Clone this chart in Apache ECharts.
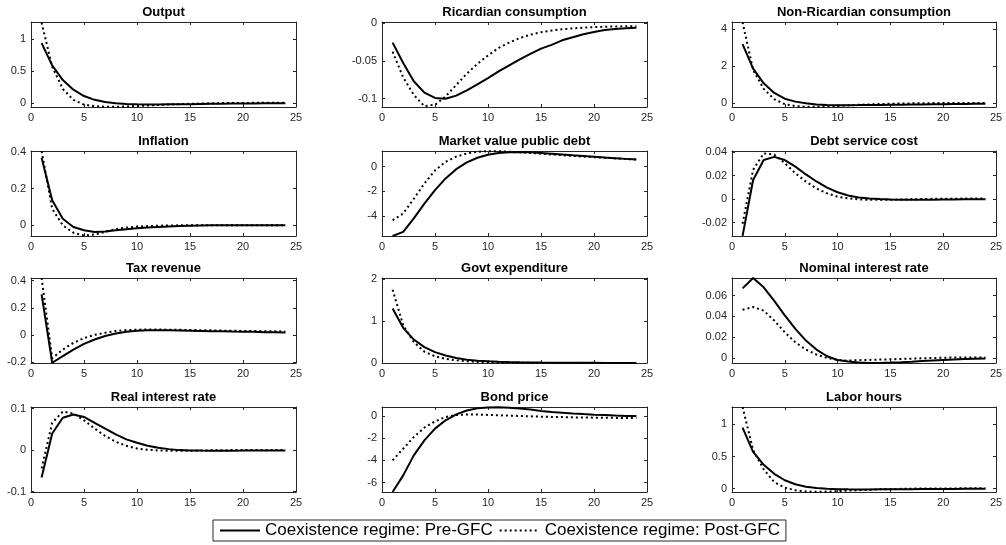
<!DOCTYPE html>
<html><head><meta charset="utf-8">
<script src="https://cdn.jsdelivr.net/npm/echarts@6/dist/echarts.min.js"></script>
<style>html,body{margin:0;padding:0;background:#fff}#c{width:1006px;height:545px}</style>
</head><body><div id="c"></div>
<script>
const periods = [1,2,3,4,5,6,7,8,9,10,11,12,13,14,15,16,17,18,19,20,21,22,23,24];
const xTicks = [0,5,10,15,20,25];
const seriesNames = ['Coexistence regime: Pre-GFC','Coexistence regime: Post-GFC'];
const panelTitles = ['Output','Ricardian consumption','Non-Ricardian consumption','Inflation','Market value public debt','Debt service cost','Tax revenue','Govt expenditure','Nominal interest rate','Real interest rate','Bond price','Labor hours'];

const outputPre  = [0.94,0.59,0.36,0.21,0.11,0.05,0.015,-0.005,-0.014,-0.019,-0.021,-0.021,-0.02,-0.019,-0.017,-0.015,-0.013,-0.011,-0.009,-0.008,-0.006,-0.005,-0.004,-0.003];
const outputPost = [1.26,0.57,0.22,0.05,-0.025,-0.05,-0.058,-0.058,-0.053,-0.046,-0.038,-0.03,-0.023,-0.017,-0.012,-0.008,-0.004,-0.001,0.001,0.002,0.003,0.004,0.004,0.004];
const ricPre  = [-0.026,-0.053,-0.077,-0.092,-0.099,-0.1,-0.096,-0.089,-0.081,-0.073,-0.064,-0.056,-0.048,-0.041,-0.034,-0.029,-0.023,-0.019,-0.015,-0.012,-0.0095,-0.008,-0.007,-0.0065];
const ricPost = [-0.038,-0.072,-0.095,-0.11,-0.108,-0.097,-0.082,-0.067,-0.054,-0.043,-0.033,-0.026,-0.02,-0.0155,-0.0123,-0.01,-0.0085,-0.0072,-0.0063,-0.0056,-0.0051,-0.0047,-0.0045,-0.0044];
const nonRicPre  = [3.2,1.87,1.08,0.56,0.25,0.09,0.0,-0.06,-0.09,-0.1,-0.1,-0.098,-0.094,-0.088,-0.082,-0.075,-0.068,-0.061,-0.054,-0.047,-0.04,-0.033,-0.027,-0.02];
const nonRicPost = [4.38,1.8,0.78,0.22,-0.05,-0.15,-0.19,-0.19,-0.17,-0.14,-0.11,-0.085,-0.06,-0.04,-0.025,-0.012,-0.003,0.004,0.01,0.014,0.017,0.019,0.02,0.02];
const inflPre  = [0.367,0.136,0.036,-0.009,-0.027,-0.036,-0.034,-0.027,-0.021,-0.016,-0.012,-0.009,-0.006,-0.004,-0.002,-0.001,0,0.001,0.001,0.001,0.001,0.001,0.001,0.001];
const inflPost = [0.403,0.09,0.0,-0.04,-0.055,-0.05,-0.035,-0.021,-0.012,-0.007,-0.004,-0.002,-0.001,0,0.001,0.001,0.001,0.001,0.001,0.001,0.001,0.001,0.001,0.001];
const mvPre  = [-5.63,-5.3,-4.2,-3.0,-1.9,-0.95,-0.2,0.35,0.73,0.98,1.12,1.18,1.19,1.17,1.12,1.06,1.0,0.93,0.87,0.81,0.75,0.7,0.64,0.58];
const mvPost = [-4.35,-3.8,-2.6,-1.36,-0.3,0.4,0.82,1.08,1.22,1.27,1.26,1.22,1.17,1.12,1.06,1.0,0.94,0.88,0.83,0.78,0.73,0.68,0.63,0.59];
const debtPre  = [-0.0314,0.0163,0.0333,0.036,0.0333,0.0277,0.021,0.015,0.0097,0.0058,0.0031,0.0014,0.0005,0.0,-0.0003,-0.0005,-0.0006,-0.0006,-0.0005,-0.0004,-0.0003,-0.0002,-0.0002,-0.0002];
const debtPost = [-0.021,0.025,0.039,0.038,0.0306,0.022,0.0149,0.009,0.0049,0.002,0.0006,-0.0003,-0.0006,-0.0007,-0.0006,-0.0004,-0.0002,0.0,0.0002,0.0003,0.0003,0.0004,0.0004,0.0004];
const taxPre  = [0.3,-0.203,-0.155,-0.106,-0.064,-0.032,-0.007,0.012,0.025,0.032,0.035,0.036,0.035,0.034,0.033,0.031,0.029,0.028,0.026,0.025,0.024,0.022,0.021,0.02];
const taxPost = [0.42,-0.17,-0.106,-0.057,-0.022,0.002,0.017,0.03,0.037,0.04,0.041,0.041,0.04,0.039,0.038,0.036,0.035,0.033,0.032,0.031,0.03,0.029,0.028,0.027];
const govPre  = [1.3,0.84,0.56,0.38,0.26,0.18,0.12,0.08,0.056,0.04,0.03,0.022,0.017,0.013,0.01,0.008,0.006,0.005,0.004,0.003,0.002,0.002,0.001,0.001];
const govPost = [1.75,0.9,0.5,0.27,0.16,0.1,0.064,0.04,0.025,0.016,0.01,0.006,0.004,0.003,0.002,0.001,0.001,0,0,0,0,0,0,0];
const nomPre  = [0.067,0.077,0.068,0.055,0.041,0.028,0.0167,0.008,0.0016,-0.002,-0.0035,-0.0045,-0.0048,-0.0048,-0.0045,-0.0041,-0.0036,-0.003,-0.0025,-0.002,-0.0015,-0.0011,-0.0008,-0.0006];
const nomPost = [0.0465,0.049,0.0455,0.036,0.0247,0.015,0.008,0.0032,0.0,-0.002,-0.0026,-0.0022,-0.0019,-0.0016,-0.0013,-0.001,-0.0007,-0.0004,-0.0001,0.0002,0.0004,0.0005,0.0005,0.0005];
const realPre  = [-0.066,0.04,0.078,0.086,0.08,0.066,0.052,0.038,0.026,0.0176,0.0104,0.0056,0.0024,0.0,-0.0008,-0.0012,-0.0014,-0.0014,-0.0013,-0.0012,-0.001,-0.0009,-0.0008,-0.0007];
const realPost = [-0.044,0.066,0.093,0.088,0.072,0.052,0.034,0.02,0.0104,0.004,0.0008,-0.0008,-0.0016,-0.0017,-0.0015,-0.0011,-0.0006,-0.0002,0.0001,0.0003,0.0004,0.0005,0.0005,0.0005];
const bondPre  = [-6.85,-5.35,-3.55,-2.2,-1.14,-0.39,0.15,0.5,0.69,0.77,0.78,0.74,0.67,0.59,0.45,0.37,0.3,0.23,0.17,0.12,0.08,0.04,0.01,-0.01];
const bondPost = [-4.0,-2.94,-1.9,-1.05,-0.48,-0.09,0.08,0.13,0.13,0.1,0.07,0.03,0.0,-0.03,-0.06,-0.08,-0.1,-0.12,-0.14,-0.15,-0.16,-0.17,-0.18,-0.18];
const laborPre  = [0.95,0.57,0.37,0.23,0.13,0.067,0.03,0.008,-0.003,-0.009,-0.012,-0.013,-0.013,-0.012,-0.011,-0.01,-0.009,-0.008,-0.007,-0.006,-0.005,-0.004,-0.003,-0.003];
const laborPost = [1.27,0.6,0.3,0.1,0.015,-0.026,-0.045,-0.05,-0.047,-0.04,-0.032,-0.025,-0.018,-0.012,-0.008,-0.004,-0.001,0.001,0.002,0.003,0.003,0.004,0.004,0.004];

const yTicksOutput = [0,0.5,1];
const yTicksRic = [-0.1,-0.05,0];
const yTicksNonRic = [0,2,4];
const yTicksInfl = [0,0.2,0.4];
const yTicksMv = [-4,-2,0];
const yTicksDebt = [-0.02,0,0.02,0.04];
const yTicksTax = [-0.2,0,0.2,0.4];
const yTicksGov = [0,1,2];
const yTicksNom = [0,0.02,0.04,0.06];
const yTicksReal = [-0.1,0,0.1];
const yTicksBond = [-6,-4,-2,0];
const yTicksLabor = [0,0.5,1];

const panels = [
  {pre: outputPre, post: outputPost, ticks: yTicksOutput, min: -0.062, max: 1.27},
  {pre: ricPre, post: ricPost, ticks: yTicksRic, min: -0.111, max: 0.0012},
  {pre: nonRicPre, post: nonRicPost, ticks: yTicksNonRic, min: -0.2, max: 4.39},
  {pre: inflPre, post: inflPost, ticks: yTicksInfl, min: -0.058, max: 0.404},
  {pre: mvPre, post: mvPost, ticks: yTicksMv, min: -5.63, max: 1.28},
  {pre: debtPre, post: debtPost, ticks: yTicksDebt, min: -0.0315, max: 0.041},
  {pre: taxPre, post: taxPost, ticks: yTicksTax, min: -0.205, max: 0.42},
  {pre: govPre, post: govPost, ticks: yTicksGov, min: 0, max: 2.03},
  {pre: nomPre, post: nomPost, ticks: yTicksNom, min: -0.0049, max: 0.077},
  {pre: realPre, post: realPost, ticks: yTicksReal, min: -0.101, max: 0.104},
  {pre: bondPre, post: bondPost, ticks: yTicksBond, min: -6.85, max: 0.81},
  {pre: laborPre, post: laborPost, ticks: yTicksLabor, min: -0.053, max: 1.27}
];

const FONT = '"Liberation Sans", Arial, Helvetica, sans-serif';
const colLeft = [31, 382, 732];
const colWidth = [265, 265, 264];
const rowTop = [22, 151, 278, 407];
const rowHeight = 85;
const axisColor = '#262626';

const grids = [], xAxes = [], yAxes = [], series = [], titles = [];
panels.forEach((p, i) => {
  const c = i % 3, r = Math.floor(i / 3);
  grids.push({left: colLeft[c], top: rowTop[r], width: colWidth[c], height: rowHeight, containLabel: false});
  titles.push({text: panelTitles[i], left: colLeft[c] + colWidth[c] / 2, top: rowTop[r] - 16, textAlign: 'center', padding: 0,
    textStyle: {fontFamily: FONT, fontSize: 13, fontWeight: 'bold', color: '#000'}});
});
panels.forEach((p, i) => {
  xAxes.push({type: 'value', gridIndex: i, min: 0, max: 25, interval: 5, position: 'bottom',
    axisLine: {show: true, onZero: false, lineStyle: {color: axisColor, width: 1}},
    axisTick: {show: true, inside: true, length: 3, customValues: xTicks, lineStyle: {color: axisColor}},
    axisLabel: {show: true, margin: 5, fontFamily: FONT, fontSize: 11, color: '#262626', customValues: xTicks},
    splitLine: {show: false}});
  yAxes.push({type: 'value', gridIndex: i, min: p.min, max: p.max, position: 'left',
    axisLine: {show: true, onZero: false, lineStyle: {color: axisColor, width: 1}},
    axisTick: {show: true, inside: true, length: 3, customValues: p.ticks, lineStyle: {color: axisColor}},
    axisLabel: {show: true, margin: 5, fontFamily: FONT, fontSize: 11, color: '#262626', customValues: p.ticks,
      showMinLabel: true, showMaxLabel: true},
    splitLine: {show: false}});
});
panels.forEach((p, i) => {
  xAxes.push({type: 'value', gridIndex: i, min: 0, max: 25, interval: 5, position: 'top',
    axisLine: {show: true, onZero: false, lineStyle: {color: axisColor, width: 1}},
    axisTick: {show: true, inside: true, length: 3, customValues: xTicks, lineStyle: {color: axisColor}},
    axisLabel: {show: false}, splitLine: {show: false}});
  yAxes.push({type: 'value', gridIndex: i, min: p.min, max: p.max, position: 'right',
    axisLine: {show: true, onZero: false, lineStyle: {color: axisColor, width: 1}},
    axisTick: {show: true, inside: true, length: 3, customValues: p.ticks, lineStyle: {color: axisColor}},
    axisLabel: {show: false}, splitLine: {show: false}});
});
panels.forEach((p, i) => {
  series.push({type: 'line', name: seriesNames[0], xAxisIndex: i, yAxisIndex: i,
    data: periods.map((t, k) => [t, p.pre[k]]), symbol: 'none', clip: true, silent: true,
    lineStyle: {color: '#000', width: 2, type: 'solid'}, itemStyle: {color: '#000'}, z: 3});
  series.push({type: 'line', name: seriesNames[1], xAxisIndex: i, yAxisIndex: i,
    data: periods.map((t, k) => [t, p.post[k]]), symbol: 'none', clip: true, silent: true,
    lineStyle: {color: '#000', width: 2, type: [2, 3], cap: 'butt'}, itemStyle: {color: '#000'}, z: 2});
});

const chart = echarts.init(document.getElementById('c'), null, {renderer: 'canvas'});
chart.setOption({
  backgroundColor: '#fff',
  animation: false,
  title: titles,
  grid: grids,
  xAxis: xAxes,
  yAxis: yAxes,
  series: series,
  legend: {data: seriesNames, left: 213, top: 520, orient: 'horizontal',
    itemWidth: 40, itemHeight: 14, itemGap: 6, padding: [2, 6, 2, 6],
    itemStyle: {color: 'rgba(0,0,0,0)', borderWidth: 0, opacity: 0},
    borderColor: '#262626', borderWidth: 1, backgroundColor: '#fff',
    textStyle: {fontFamily: FONT, fontSize: 17, color: '#000'}, selectedMode: false}
});
</script></body></html>
